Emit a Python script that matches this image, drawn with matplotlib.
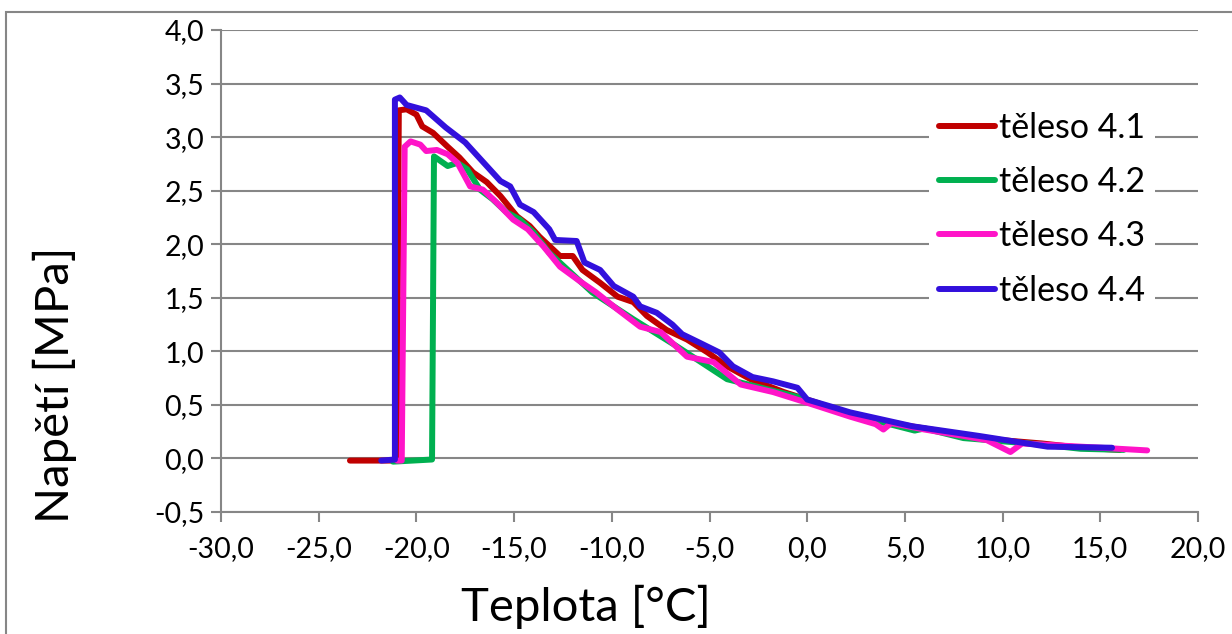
import matplotlib
matplotlib.use("Agg")
import matplotlib.pyplot as plt
from matplotlib.patches import Rectangle

plt.rcParams["font.family"] = ["Lato", "DejaVu Sans"]

# těleso 4.1 (red)
x1 = [-23.4, -21.0, -20.9, -20.5, -20.0, -19.7, -19.15, -18.4, -17.8, -17.1, -16.4,
      -15.7, -14.85, -14.2, -13.7, -12.65, -12.0, -11.5, -10.6, -9.7, -8.9, -8.2,
      -7.2, -6.15, -5.1, -4.1, -2.9, -1.2, 0.5, 2.0, 5.0, 8.0, 10.0, 12.0, 14.0, 16.0]
y1 = [-0.02, -0.02, 3.25, 3.26, 3.21, 3.10, 3.04, 2.91, 2.81, 2.67, 2.58,
      2.45, 2.26, 2.17, 2.07, 1.89, 1.89, 1.76, 1.64, 1.51, 1.46, 1.33,
      1.20, 1.11, 0.99, 0.86, 0.74, 0.62, 0.52, 0.42, 0.31, 0.22, 0.17, 0.14, 0.10, 0.08]

# těleso 4.2 (green)
x2 = [-21.2, -19.2, -19.1, -18.4, -17.9, -17.4, -16.75, -16.1, -15.4, -14.7, -14.0,
      -13.2, -11.0, -8.9, -6.7, -4.1, -0.4, 2.0, 4.0, 5.5, 6.0, 8.0, 10.0, 12.0, 14.0, 16.2]
y2 = [-0.03, -0.01, 2.82, 2.73, 2.76, 2.70, 2.51, 2.42, 2.30, 2.23, 2.11,
      1.92, 1.55, 1.30, 1.05, 0.74, 0.57, 0.41, 0.33, 0.26, 0.28, 0.19, 0.16, 0.13, 0.09, 0.08]

# těleso 4.3 (magenta)
x3 = [-21.0, -20.75, -20.6, -20.3, -19.8, -19.5, -18.95, -18.4, -17.9, -17.25, -16.6,
      -15.9, -15.05, -14.3, -13.5, -12.65, -11.6, -10.8, -9.7, -8.55, -7.5, -6.15,
      -4.8, -3.4, -1.75, 0.0, 2.2, 3.5, 3.9, 4.3, 6.0, 8.0, 9.2, 10.4, 11.0, 13.0, 15.0, 17.4]
y3 = [-0.02, -0.02, 2.91, 2.96, 2.93, 2.87, 2.88, 2.84, 2.76, 2.54, 2.51,
      2.39, 2.23, 2.14, 1.98, 1.79, 1.65, 1.55, 1.39, 1.23, 1.18, 0.95,
      0.90, 0.69, 0.62, 0.52, 0.39, 0.32, 0.27, 0.33, 0.27, 0.21, 0.17, 0.06, 0.14, 0.12, 0.10, 0.075]

# těleso 4.4 (blue)
x4 = [-21.8, -21.1, -21.1, -20.85, -20.5, -19.5, -18.5, -17.5, -16.5, -15.7, -15.2,
      -14.7, -14.0, -13.2, -12.9, -11.8, -11.4, -10.6, -9.9, -8.9, -8.55, -7.7,
      -6.9, -6.4, -5.5, -4.5, -3.8, -2.8, -1.75, -0.5, 0.0, 1.3, 2.2, 5.4, 8.8, 12.3, 15.6]
y4 = [-0.02, -0.01, 3.35, 3.37, 3.30, 3.25, 3.09, 2.95, 2.75, 2.59, 2.54,
      2.37, 2.30, 2.14, 2.04, 2.03, 1.83, 1.76, 1.61, 1.51, 1.42, 1.36,
      1.25, 1.16, 1.08, 0.99, 0.86, 0.76, 0.72, 0.66, 0.55, 0.48, 0.43, 0.30, 0.21, 0.11, 0.10]

series = [
    ("těleso 4.1", x1, y1, "#C00000"),
    ("těleso 4.2", x2, y2, "#00B050"),
    ("těleso 4.3", x3, y3, "#FF14C8"),
    ("těleso 4.4", x4, y4, "#3210DC"),
]

xticks = [-30, -25, -20, -15, -10, -5, 0, 5, 10, 15, 20]
yticks = [-0.5, 0.0, 0.5, 1.0, 1.5, 2.0, 2.5, 3.0, 3.5, 4.0]

W, H = 1232, 634
fig = plt.figure(figsize=(W / 100, H / 100), dpi=100)
ax = fig.add_axes([221 / W, 1 - 512 / H, (1198 - 221) / W, (512 - 30) / H])

grey = "#868686"
for name, xs, ys, col in series:
    ax.plot(xs, ys, color=col, lw=4.3, label=name,
            solid_joinstyle="round", solid_capstyle="round")

ax.set_xlim(-30, 20)
ax.set_ylim(-0.5, 4.0)
ax.set_xticks(xticks)
ax.set_yticks(yticks)
ax.set_xticklabels([f"{v:.1f}".replace(".", ",") for v in xticks])
ax.set_yticklabels([f"{v:.1f}".replace(".", ",") for v in yticks])
ax.tick_params(axis="both", labelsize=20.5, color=grey, width=1.5, length=7, direction="out")
ax.tick_params(axis="x", pad=10)
ax.tick_params(axis="y", pad=5)
ax.yaxis.grid(True, color=grey, lw=1.5)
ax.set_axisbelow(True)
for s in ["top", "right"]:
    ax.spines[s].set_visible(False)
for s in ["left", "bottom"]:
    ax.spines[s].set_color(grey)
    ax.spines[s].set_linewidth(1.5)

leg = ax.legend(loc="upper left", bbox_to_anchor=(0.707, 0.886), frameon=True,
                fontsize=24.5, handlelength=1.65, handletextpad=0.1,
                labelspacing=0.65, borderpad=0.3, fancybox=False)
leg.get_frame().set_edgecolor("none")
leg.get_frame().set_facecolor("white")
leg.get_frame().set_alpha(1)

fig.text(586 / W, 1 - 607 / H, "Teplota [°C]", fontsize=34, ha="center", va="center")
fig.text(55 / W, 1 - 385 / H, "Napětí [MPa]", fontsize=34, ha="center", va="center",
         rotation=90)

fig.patches.append(Rectangle((6 / W, -0.1), 1.1, 1 - 12 / H + 0.1, transform=fig.transFigure,
                             fill=False, edgecolor=grey, lw=1.5))

fig.savefig("out.png", dpi=100)
